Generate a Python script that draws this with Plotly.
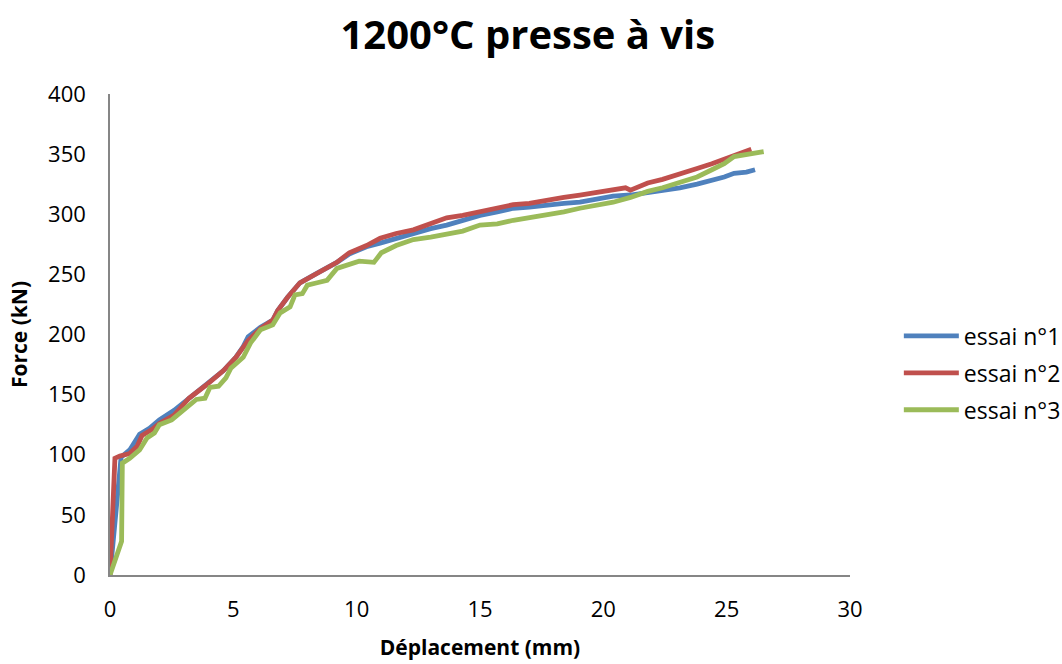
import plotly.graph_objects as go

# essai n°1 (blue)
x1 = [0, 0.3, 0.45, 0.8, 1.2, 1.6, 2.0, 2.6, 3.2, 3.9, 4.6, 5.1, 5.4, 5.6, 6.1, 6.6, 6.8, 7.2, 7.7, 8.4, 9.2, 9.7, 10.4,
      10.95, 11.6, 12.3, 13.0, 13.65, 14.3, 15.0, 15.7, 16.35, 17.0, 17.7, 18.4, 19.05, 19.7, 20.4, 21.1, 21.8, 22.4,
      23.1, 23.8, 24.4, 24.9, 25.3, 25.8, 26.15]
y1 = [0, 60, 98, 104, 117, 122, 129, 137, 147, 158, 170, 181, 190, 198, 206, 212, 220, 231, 243, 251, 260, 267, 273,
      276, 280, 284, 288, 291, 295, 299, 302, 305, 306, 308, 309, 310, 312, 315, 316, 318, 320,
      322, 325, 328, 331, 334, 335, 337]

# essai n°2 (red)
x2 = [0, 0.2, 0.4, 0.8, 1.1, 1.3, 1.7, 2.0, 2.6, 3.2, 3.9, 4.6, 5.1, 5.6, 6.1, 6.6, 6.8, 7.2, 7.7, 8.4, 9.2, 9.7, 10.4,
      10.95, 11.6, 12.3, 13.0, 13.65, 14.3, 15.0, 15.7, 16.35, 17.0, 17.7, 18.4, 19.05, 19.7, 20.4, 20.9, 21.1, 21.8,
      22.4, 23.1, 23.8, 24.4, 24.9, 25.3, 25.7, 26.0]
y2 = [0, 97, 99, 101, 107, 116, 121, 126, 133, 147, 158, 170, 181, 195, 205, 212, 220, 231, 243, 251, 260, 268, 274,
      280, 284, 287, 292, 297, 299, 302, 305, 308, 309, 312, 314, 316, 318, 320, 322, 320, 326,
      329, 334, 338, 342, 346, 349, 352, 354]

# essai n°3 (green)
x3 = [0, 0.47, 0.5, 0.8, 1.2, 1.5, 1.8, 2.0, 2.5, 3.0, 3.5, 3.85, 4.05, 4.4, 4.7, 4.9, 5.4, 5.7, 6.1, 6.6, 6.9, 7.3,
      7.5, 7.8, 8.0, 8.4, 8.8, 9.2, 9.6, 10.1, 10.7, 11.0, 11.6, 12.3, 13.0, 13.65, 14.3, 15.0, 15.7, 16.35, 17.0,
      17.7, 18.4, 19.05, 19.7, 20.4, 21.1, 21.8, 22.4, 23.1, 23.8, 24.4, 24.9, 25.3, 25.8, 26.5]
y3 = [0, 28, 93, 97, 104, 114, 118, 125, 129, 137, 146, 147, 156, 157, 164, 172, 181, 193, 204, 208, 218, 223,
      233, 234, 241, 243, 245, 255, 258, 261, 260, 268, 274, 279, 281, 284, 286, 291, 292, 295, 297,
      299, 302, 305, 307, 310, 314, 319, 322, 326, 331, 337, 342, 348, 350, 352]

x_ticks = [0, 5, 10, 15, 20, 25, 30]
y_ticks = [0, 50, 100, 150, 200, 250, 300, 350, 400]

series = [("essai n°1", x1, y1, "#4F81BD"),
          ("essai n°2", x2, y2, "#C0504D"),
          ("essai n°3", x3, y3, "#9BBB59")]

fig = go.Figure()
for i, (name, xs, ys, col) in enumerate(series):
    fig.add_trace(go.Scatter(x=xs, y=ys, mode="lines", name=name, legendgroup=str(i),
                             line=dict(color=col, width=4.8)))

font_family = "Open Sans, Liberation Sans, sans-serif"
fig.update_layout(
    width=1062, height=664,
    paper_bgcolor="white", plot_bgcolor="white",
    margin=dict(l=110, r=212, t=94, b=89, autoexpand=False),
    title=dict(text="<b>1200°C presse à vis</b>", x=0.497, xanchor="center", y=0.947, yanchor="middle",
               font=dict(family=font_family, size=40, color="black")),
    font=dict(family=font_family, size=22, color="black"),
    showlegend=True,
    legend=dict(x=1.066, xanchor="left", y=0.42, yanchor="middle", itemwidth=55,
                tracegroupgap=4, font=dict(size=23), bgcolor="rgba(0,0,0,0)"),
    xaxis=dict(range=[0, 30], tickvals=x_ticks, showgrid=False, zeroline=False, automargin=False,
               showline=True, linecolor="#868686", linewidth=1.5, ticks="", ticklabelstandoff=14,
               tickfont=dict(size=22),
               title=dict(text="<b>Déplacement (mm)</b>", font=dict(size=21), standoff=18)),
    yaxis=dict(range=[0, 400], tickvals=y_ticks, showgrid=False, zeroline=False, automargin=False,
               showline=True, linecolor="#868686", linewidth=1.5, ticks="", ticklabelstandoff=18,
               tickfont=dict(size=22),
               title=dict(text="<b>Force (kN)</b>", font=dict(size=21), standoff=15)),
)
fig.write_html("out.html", config={"displayModeBar": False},
               post_script="document.body.style.margin='0';document.body.style.overflow='hidden';")
